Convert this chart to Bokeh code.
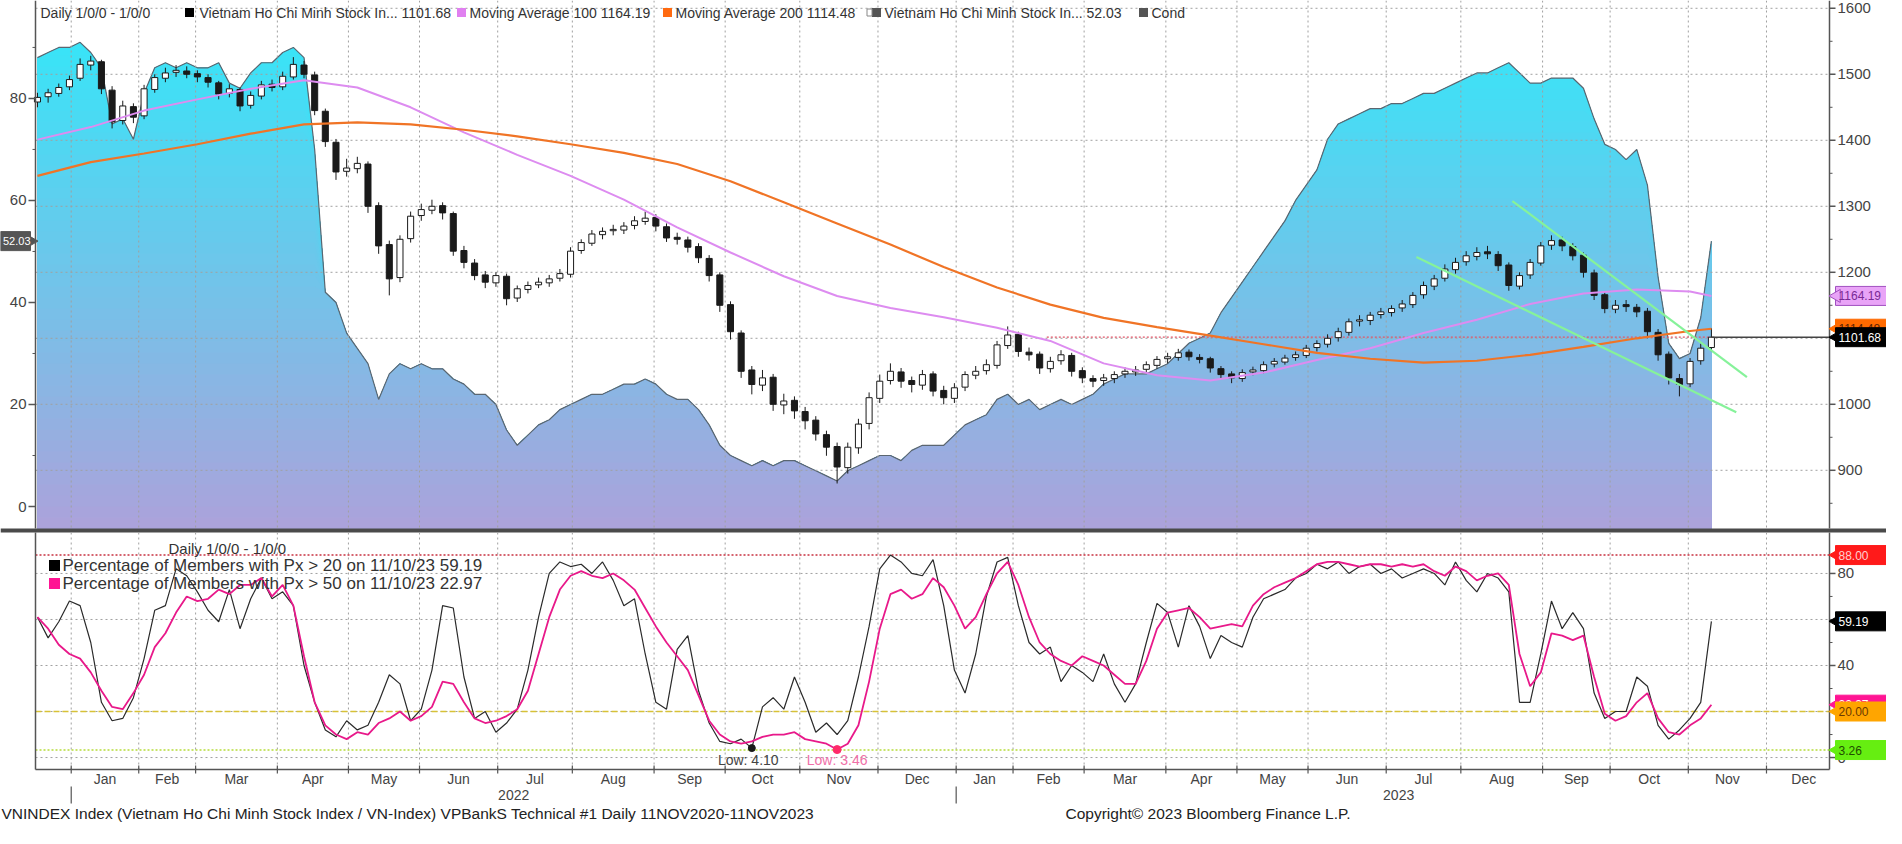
import numpy as np
import pandas as pd
from bokeh.plotting import figure
from bokeh.models import Range1d
from bokeh.embed import file_html
from bokeh.resources import INLINE
from bokeh.core.properties import value

# ---------------- calendar (trading days) ----------------
CAL_START = "2021-12-20"
CAL_END = "2023-12-29"
VN_HOLIDAYS = ["2022-01-03", "2022-01-31", "2022-02-01", "2022-02-02", "2022-02-03",
               "2022-02-04", "2022-04-11", "2022-05-02", "2022-05-03", "2022-09-01",
               "2022-09-02", "2023-01-02", "2023-01-20", "2023-01-23", "2023-01-24",
               "2023-01-25", "2023-01-26", "2023-05-01", "2023-05-02", "2023-05-03",
               "2023-09-01", "2023-09-04"]
MONTHS = ["Jan", "Feb", "Mar", "Apr", "May", "Jun", "Jul", "Aug", "Sep", "Oct", "Nov", "Dec"]
SAMPLE_STEP = 3  # trading days between samples below

# ---------------- VN-Index candles ----------------
px_open = [1458, 1466, 1471, 1481, 1494, 1514, 1519, 1476, 1430, 1451,
           1437, 1477, 1494, 1503, 1505, 1501, 1495, 1487, 1471, 1477,
           1453, 1467, 1485, 1481, 1496, 1514, 1499, 1444, 1397, 1353,
           1357, 1364, 1301, 1242, 1192, 1251, 1286, 1294, 1301, 1289,
           1233, 1214, 1196, 1184, 1194, 1161, 1174, 1181, 1184, 1191,
           1197, 1233, 1244, 1257, 1263, 1264, 1271, 1277, 1283, 1269,
           1253, 1249, 1239, 1221, 1196, 1151, 1108, 1052, 1029, 1041,
           999, 1006, 989, 976, 954, 936, 904, 934, 971, 1009,
           1036, 1049, 1036, 1029, 1046, 1021, 1009, 1026, 1044, 1051,
           1059, 1089, 1106, 1079, 1076, 1054, 1066, 1074, 1051, 1039,
           1036, 1039, 1046, 1049, 1053, 1059, 1069, 1071, 1079, 1071,
           1069, 1054, 1046, 1039, 1049, 1051, 1061, 1064, 1071, 1074,
           1086, 1091, 1101, 1109, 1126, 1127, 1136, 1139, 1146, 1151,
           1166, 1179, 1191, 1204, 1216, 1224, 1231, 1227, 1211, 1179,
           1196, 1214, 1241, 1249, 1239, 1226, 1199, 1166, 1144, 1151,
           1147, 1141, 1109, 1076, 1039, 1031, 1066, 1086]
px_high = [1472, 1478, 1486, 1498, 1524, 1528, 1522, 1482, 1460, 1456,
           1484, 1500, 1510, 1514, 1512, 1506, 1500, 1490, 1485, 1480,
           1474, 1490, 1492, 1504, 1526, 1520, 1504, 1448, 1402, 1372,
           1375, 1368, 1306, 1248, 1256, 1292, 1304, 1310, 1306, 1292,
           1240, 1220, 1202, 1200, 1198, 1180, 1186, 1192, 1196, 1205,
           1238, 1250, 1264, 1268, 1272, 1276, 1285, 1292, 1288, 1274,
           1260, 1254, 1244, 1226, 1200, 1156, 1112, 1058, 1052, 1046,
           1016, 1012, 996, 982, 960, 942, 942, 978, 1018, 1045,
           1062, 1055, 1042, 1052, 1050, 1028, 1032, 1050, 1058, 1068,
           1096, 1118, 1110, 1086, 1080, 1072, 1082, 1078, 1056, 1044,
           1046, 1050, 1056, 1058, 1065, 1073, 1078, 1084, 1083, 1076,
           1072, 1058, 1050, 1053, 1057, 1065, 1070, 1075, 1080, 1090,
           1097, 1106, 1116, 1130, 1135, 1140, 1146, 1150, 1158, 1170,
           1186, 1196, 1212, 1222, 1232, 1238, 1240, 1232, 1215, 1200,
           1220, 1246, 1256, 1254, 1244, 1230, 1204, 1170, 1158, 1158,
           1152, 1146, 1114, 1080, 1046, 1070, 1092, 1115]
px_low = [1450, 1457, 1466, 1476, 1490, 1506, 1470, 1418, 1424, 1426,
          1432, 1472, 1488, 1496, 1494, 1488, 1480, 1462, 1465, 1444,
          1448, 1462, 1474, 1476, 1492, 1494, 1438, 1390, 1340, 1345,
          1350, 1290, 1228, 1165, 1185, 1245, 1278, 1288, 1280, 1225,
          1206, 1188, 1176, 1178, 1150, 1155, 1168, 1176, 1178, 1186,
          1192, 1228, 1240, 1250, 1256, 1258, 1265, 1272, 1262, 1246,
          1242, 1230, 1214, 1186, 1140, 1098, 1040, 1015, 1020, 990,
          985, 978, 962, 945, 922, 880, 895, 925, 962, 1002,
          1030, 1025, 1018, 1022, 1012, 1000, 1002, 1020, 1038, 1045,
          1054, 1084, 1072, 1066, 1046, 1048, 1060, 1042, 1032, 1026,
          1028, 1032, 1040, 1043, 1048, 1054, 1062, 1066, 1066, 1062,
          1048, 1038, 1032, 1034, 1044, 1047, 1056, 1060, 1066, 1070,
          1080, 1086, 1095, 1104, 1118, 1120, 1130, 1133, 1140, 1146,
          1160, 1173, 1186, 1198, 1210, 1218, 1220, 1202, 1172, 1174,
          1190, 1210, 1234, 1232, 1218, 1192, 1158, 1138, 1138, 1140,
          1132, 1100, 1066, 1030, 1012, 1026, 1060, 1080]
px_close = [1465, 1472, 1480, 1492, 1515, 1520, 1478, 1428, 1452, 1435,
            1478, 1495, 1502, 1506, 1500, 1496, 1488, 1470, 1478, 1452,
            1468, 1484, 1480, 1497, 1515, 1500, 1445, 1398, 1352, 1358,
            1365, 1300, 1240, 1190, 1250, 1285, 1295, 1300, 1290, 1232,
            1215, 1195, 1185, 1195, 1160, 1175, 1180, 1185, 1190, 1198,
            1232, 1245, 1258, 1262, 1265, 1270, 1278, 1282, 1270, 1252,
            1250, 1238, 1222, 1195, 1150, 1110, 1050, 1030, 1040, 1000,
            1005, 990, 975, 955, 935, 905, 935, 970, 1010, 1035,
            1050, 1035, 1030, 1045, 1020, 1010, 1025, 1045, 1050, 1060,
            1090, 1105, 1080, 1075, 1055, 1065, 1075, 1050, 1040, 1035,
            1040, 1045, 1050, 1052, 1060, 1068, 1072, 1078, 1072, 1068,
            1055, 1045, 1040, 1048, 1052, 1060, 1065, 1070, 1075, 1085,
            1092, 1100, 1110, 1125, 1128, 1135, 1140, 1145, 1152, 1165,
            1180, 1190, 1205, 1215, 1225, 1230, 1228, 1210, 1180, 1195,
            1215, 1240, 1248, 1240, 1225, 1200, 1165, 1145, 1150, 1148,
            1140, 1110, 1075, 1040, 1030, 1065, 1085, 1101.68]
last_price = 1101.68
last_price_line_from_day = 284

# ---------------- moving averages (trading-day index) ----------------
ma_day = [0, 15, 30, 45, 60, 75, 90, 105, 120, 135, 150, 165, 180, 195, 210, 225,
          240, 255, 270, 285, 300, 315, 330, 345, 360, 375, 390, 405, 420, 435, 450, 465, 471]
ma100 = [1401, 1420, 1445, 1462, 1478, 1491, 1480, 1450, 1412, 1378, 1346, 1310, 1268,
         1230, 1194, 1164, 1146, 1132, 1116, 1096, 1062, 1044, 1036, 1048, 1067, 1085,
         1108, 1128, 1152, 1168, 1174, 1171, 1164.19]
ma200 = [1346, 1367, 1380, 1394, 1410, 1424, 1427, 1424, 1416, 1406, 1394, 1381, 1364,
         1338, 1306, 1274, 1242, 1208, 1177, 1151, 1131, 1117, 1104, 1091, 1078, 1069,
         1063, 1066, 1075, 1087, 1100, 1111, 1114.48]

# ---------------- Cond (left axis) ----------------
cond = [88, 89, 90, 90, 91, 89, 86, 75, 76, 72,
        81, 86, 87, 86, 87, 86, 86, 87, 83, 82,
        85, 87, 87, 89, 90, 88, 70, 42, 40, 34,
        31, 28, 21, 26, 28, 27, 28, 27, 27, 25,
        24, 22, 22, 20, 15, 12, 14, 16, 17, 19,
        20, 21, 22, 22, 23, 24, 24, 25, 24, 22,
        21, 21, 19, 16, 12, 10, 9, 8, 9, 8,
        9, 9, 8, 7, 6, 5, 7, 8, 9, 10,
        10, 9, 11, 12, 12, 12, 14, 16, 17, 18,
        21, 22, 20, 21, 19, 20, 21, 20, 21, 22,
        24, 25, 26, 26, 26, 27, 28, 30, 32, 33,
        34, 38, 41, 44, 47, 50, 53, 56, 60, 63,
        66, 72, 75, 76, 77, 78, 78, 79, 79, 80,
        81, 81, 82, 83, 84, 85, 85, 86, 87, 85,
        83, 83, 84, 84, 84, 82, 76, 71, 70, 68,
        70, 63, 45, 32, 29, 30, 37, 52.03]

# ---------------- breadth (lower panel) ----------------
pct_above_20 = [61, 52, 59, 68, 66, 50, 24, 16, 17, 26,
                43, 64, 66, 82, 79, 72, 64, 59, 73, 56,
                69, 78, 69, 72, 66, 40, 24, 12, 9, 16,
                12, 14, 24, 36, 32, 16, 21, 38, 66, 65,
                35, 17, 20, 11, 15, 21, 38, 61, 80, 85,
                83, 84, 80, 85, 77, 66, 69, 45, 24, 21,
                47, 53, 29, 15, 7, 6, 8, 4.10, 22, 26,
                21, 35, 24, 11, 15, 10, 16, 35, 57, 82,
                88, 85, 80, 79, 86, 66, 38, 28, 45, 70,
                85, 87, 66, 50, 45, 48, 33, 40, 37, 33,
                45, 32, 24, 32, 50, 67, 63, 48, 66, 57,
                43, 53, 50, 48, 61, 69, 71, 73, 78, 80,
                84, 82, 85, 80, 83, 84, 80, 82, 78, 80,
                82, 80, 75, 85, 77, 72, 80, 78, 72, 24,
                24, 45, 68, 56, 63, 56, 28, 17, 20, 20,
                35, 31, 14, 8, 12, 17, 24, 59.19]
pct_above_50 = [61, 56, 49, 45, 43, 37, 29, 22, 21, 28,
                36, 48, 54, 63, 70, 68, 69, 73, 71, 75,
                75, 78, 70, 75, 66, 44, 24, 14, 10, 8,
                11, 10, 15, 17, 20, 16, 18, 22, 33, 32,
                24, 17, 15, 16, 18, 21, 29, 45, 61, 73,
                79, 81, 79, 78, 80, 77, 73, 65, 57, 50,
                44, 38, 27, 16, 10, 7, 6, 7, 9, 10,
                10, 11, 8, 7, 6, 3.46, 6, 14, 33, 56,
                71, 73, 69, 71, 78, 74, 66, 56, 61, 71,
                80, 85, 75, 61, 50, 45, 42, 40, 44, 42,
                40, 36, 32, 32, 42, 56, 63, 64, 65, 61,
                56, 57, 58, 57, 66, 71, 74, 76, 78, 81,
                84, 85, 85, 84, 83, 84, 84, 83, 84, 83,
                84, 81, 79, 83, 81, 77, 79, 80, 75, 45,
                31, 37, 54, 53, 51, 53, 35, 19, 16, 18,
                24, 28, 17, 11, 10, 14, 17, 22.97]

# trend channel drawn on the chart (trading-day index, price)
trend_day0 = [388, 415]
trend_px0 = [1223, 1308]
trend_day1 = [478, 481]
trend_px1 = [988, 1041]

# tick values and reference levels
price_ticks = [900, 1000, 1100, 1200, 1300, 1400, 1500, 1600]
price_minor = [850, 950, 1050, 1150, 1250, 1350, 1450, 1550]
cond_ticks = [0, 20, 40, 60, 80]
cond_minor = [10, 30, 50, 70, 90]
breadth_ticks = [0, 40, 80]
breadth_minor = [10, 20, 30, 50, 60, 70]
breadth_grid = [0, 20, 40, 60, 80]
level_high = 88.00
level_mid = 20.00
level_low = 3.26
low20_day, low20_val = 201, 4.10
low50_day, low50_val = 225, 3.46

# ---------------- layout geometry (page pixels) ----------------
FONT = "Liberation Sans"
CAN_L, CAN_R, CAN_T, CAN_B = 8, 1894, 8, 836
DATA_L, DATA_R = 43, 1837
TOP_T, TOP_B = 8, 536
BOT_T, BOT_B = 540, 777
DAY_L, DAY_R = -0.55, 504.23
PRICE_VIS = (811.8, 1611.8)
COND_VIS = (-4.31, 99.2)
BREADTH_VIS = (-5.2, 97.8)


def ext(vb, vt, yb, yt):
    k = (vt - vb) / (yb - yt)
    return Range1d(vb - (CAN_B - yb) * k, vt + (yt - CAN_T) * k)


kx = (DAY_R - DAY_L) / (DATA_R - DATA_L)
x_range = Range1d(DAY_L - (DATA_L - CAN_L) * kx, DAY_R + (CAN_R - DATA_R) * kx)

# ---------------- calendar derived ticks ----------------
days = pd.bdate_range(CAL_START, CAL_END)
days = days[~days.isin(pd.to_datetime(VN_HOLIDAYS))]
n_days = len(days)
ym = list(days.year * 12 + days.month)
yrs = list(days.year)
m_starts = [k for k in range(1, n_days) if ym[k] != ym[k - 1]]
m_ends = m_starts[1:] + [n_days]
month_bounds = [s - 0.5 for s in m_starts]
month_centers = [(s + e - 1) / 2.0 for s, e in zip(m_starts, m_ends)]
month_names = [MONTHS[days[s].month - 1] for s in m_starts]
y_starts = [k for k in range(1, n_days) if yrs[k] != yrs[k - 1]]
y_ends = y_starts[1:] + [n_days]
year_bounds = [s - 0.5 for s in y_starts]
year_centers = [(s + e - 1) / 2.0 for s, e in zip(y_starts, y_ends)]
year_names = [str(days[s].year) for s in y_starts]

day = np.arange(len(px_close)) * SAMPLE_STEP
o = np.array(px_open, float)
h = np.array(px_high, float)
l = np.array(px_low, float)
c = np.array(px_close, float)
inc = c >= o
dec = ~inc
cond_arr = np.array(cond, float)

# ---------------- figure ----------------
p = figure(width=CAN_R - CAN_L, height=CAN_B - CAN_T, x_range=x_range,
           y_range=ext(PRICE_VIS[0], PRICE_VIS[1], TOP_B, TOP_T),
           output_backend="svg", toolbar_location=None, x_axis_location=None,
           y_axis_location=None, title=None, min_border=0, outline_line_color=None,
           background_fill_color="white", border_fill_color="white")
p.extra_y_ranges = {"cond": ext(COND_VIS[0], COND_VIS[1], TOP_B, TOP_T),
                    "breadth": ext(BREADTH_VIS[0], BREADTH_VIS[1], BOT_B, BOT_T),
                    "page": Range1d(CAN_B, CAN_T)}
p.extra_x_ranges = {"page": Range1d(CAN_L, CAN_R)}
p.grid.visible = False

GRID = dict(line_color="#a0a0a0", line_dash="2 3", line_width=1)
AXIS = "#555555"


def txt(xs, ys, texts, xr="page", yr="page", size="14px", color="#333333", align="left",
        baseline="middle"):
    p.text(x=xs, y=ys, text=texts, x_range_name=xr, y_range_name=yr,
           text_font=value(FONT), text_font_size=size, text_color=color,
           text_align=align, text_baseline=baseline)


# ---- top panel: Cond gradient area ----
lo_c, hi_c = COND_VIS
nb = 48
edges = np.linspace(lo_c, hi_c, nb + 1)
top_rgb = np.array([0x2e, 0xea, 0xfa], float)
bot_rgb = np.array([0xac, 0xa2, 0xdb], float)
for k in reversed(range(nb)):
    f = ((edges[k] + edges[k + 1]) / 2 - lo_c) / (hi_c - lo_c)
    rgb = bot_rgb + (top_rgb - bot_rgb) * f
    col = "#%02x%02x%02x" % tuple(int(round(v)) for v in rgb)
    p.varea(x=day, y1=lo_c, y2=np.minimum(cond_arr, edges[k + 1]), fill_color=col,
            y_range_name="cond")
p.line(day, cond_arr, color="#5b6670", line_width=1.2, y_range_name="cond")

# ---- top panel grid ----
p.segment(x0=[DATA_L] * len(price_ticks), x1=[DATA_R] * len(price_ticks), y0=price_ticks,
          y1=price_ticks, x_range_name="page", **GRID)
p.segment(x0=month_bounds, x1=month_bounds, y0=[TOP_T] * len(month_bounds),
          y1=[TOP_B] * len(month_bounds), y_range_name="page", **GRID)

# ---- last price dotted level ----
p.segment(x0=[last_price_line_from_day], y0=[last_price], x1=[day[-1]], y1=[last_price],
          color="#e0586a", line_dash="2 2", line_width=1.2)

# ---- candles ----
p.segment(x0=day, y0=l, x1=day, y1=h, color="#1a1a1a", line_width=1)
p.vbar(x=day[inc], width=1.7, top=c[inc], bottom=o[inc], fill_color="white", line_color="#1a1a1a")
p.vbar(x=day[dec], width=1.7, top=o[dec], bottom=c[dec], fill_color="#1a1a1a", line_color="#1a1a1a")

# ---- moving averages, trend channel, last price ----
p.line(ma_day, ma100, color="#dd8cf0", line_width=2)
p.line(ma_day, ma200, color="#f07426", line_width=2.2)
p.segment(x0=trend_day0, y0=trend_px0, x1=trend_day1, y1=trend_px1, color="#86f29a", line_width=2.2)
p.segment(x0=[day[-1]], y0=[last_price], x1=[DAY_R], y1=[last_price], color="#444444",
          line_width=1.5)

# ---- top panel axes ----
p.segment(x0=[DATA_L, DATA_R], x1=[DATA_L, DATA_R], y0=[TOP_T, TOP_T], y1=[TOP_B, TOP_B],
          x_range_name="page", y_range_name="page", color=AXIS, line_width=1.5)
n = len(price_ticks)
p.segment(x0=[DATA_R] * n, x1=[DATA_R + 6] * n, y0=price_ticks, y1=price_ticks,
          x_range_name="page", color=AXIS, line_width=1.5)
p.segment(x0=[DATA_R] * len(price_minor), x1=[DATA_R + 3] * len(price_minor), y0=price_minor,
          y1=price_minor, x_range_name="page", color=AXIS, line_width=1)
txt([DATA_R + 8] * n, price_ticks, [str(v) for v in price_ticks], yr="default", size="15px",
    color="#444444")
n = len(cond_ticks)
p.segment(x0=[DATA_L - 7] * n, x1=[DATA_L] * n, y0=cond_ticks, y1=cond_ticks,
          x_range_name="page", y_range_name="cond", color=AXIS, line_width=1.5)
p.segment(x0=[DATA_L - 3] * len(cond_minor), x1=[DATA_L] * len(cond_minor), y0=cond_minor,
          y1=cond_minor, x_range_name="page", y_range_name="cond", color=AXIS, line_width=1)
txt([DATA_L - 9] * n, cond_ticks, [str(v) for v in cond_ticks], yr="cond", size="15px",
    color="#444444", align="right")

# ---- separator between panels ----
p.quad(left=[CAN_L], right=[CAN_R], top=[TOP_B], bottom=[BOT_T], x_range_name="page",
       y_range_name="page", fill_color="#4a4a4a", line_color=None)

# ---- lower panel ----
nb_ = len(breadth_grid)
p.segment(x0=[DATA_L] * nb_, x1=[DATA_R] * nb_, y0=breadth_grid, y1=breadth_grid,
          x_range_name="page", y_range_name="breadth", **GRID)
p.segment(x0=month_bounds, x1=month_bounds, y0=[BOT_T] * len(month_bounds),
          y1=[BOT_B] * len(month_bounds), y_range_name="page", **GRID)
p.segment(x0=[DATA_L], x1=[DATA_R], y0=[level_high], y1=[level_high], x_range_name="page",
          y_range_name="breadth", line_color="#c83040", line_dash="2 2", line_width=1.6)
p.segment(x0=[DATA_L], x1=[DATA_R], y0=[level_mid], y1=[level_mid], x_range_name="page",
          y_range_name="breadth", line_color="#d8c236", line_dash="6 3", line_width=1.4)
p.segment(x0=[DATA_L], x1=[DATA_R], y0=[level_low], y1=[level_low], x_range_name="page",
          y_range_name="breadth", line_color="#b6dc3a", line_dash="2 2", line_width=1.6)

p.line(day, pct_above_20, color="#2a2a2a", line_width=1.2, y_range_name="breadth")
p.line(day, pct_above_50, color="#e8198a", line_width=1.8, y_range_name="breadth")
p.scatter([low20_day], [low20_val], size=7, color="#1a1a1a", y_range_name="breadth")
p.scatter([low50_day], [low50_val], size=8, color="#ff2a6a", y_range_name="breadth")
txt([low20_day - 1], [-0.9], ["Low: 4.10"], xr="default", yr="breadth", size="14px",
    color="#444444", align="center")
txt([low50_day], [-0.9], ["Low: 3.46"], xr="default", yr="breadth", size="14px",
    color="#f070a8", align="center")

# lower panel frame and axes
p.segment(x0=[DATA_L, DATA_R, DATA_L], x1=[DATA_L, DATA_R, DATA_R], y0=[BOT_T, BOT_T, BOT_B],
          y1=[BOT_B, BOT_B, BOT_B], x_range_name="page", y_range_name="page", color=AXIS,
          line_width=1.5)
n = len(breadth_ticks)
p.segment(x0=[DATA_R] * n, x1=[DATA_R + 6] * n, y0=breadth_ticks, y1=breadth_ticks,
          x_range_name="page", y_range_name="breadth", color=AXIS, line_width=1.5)
p.segment(x0=[DATA_R] * len(breadth_minor), x1=[DATA_R + 3] * len(breadth_minor),
          y0=breadth_minor, y1=breadth_minor, x_range_name="page", y_range_name="breadth",
          color=AXIS, line_width=1)
txt([DATA_R + 8] * n, breadth_ticks, [str(v) for v in breadth_ticks], yr="breadth",
    size="15px", color="#444444")

# time axis
nm = len(month_bounds)
p.segment(x0=month_bounds, x1=month_bounds, y0=[BOT_B - 4] * nm, y1=[BOT_B + 4] * nm,
          y_range_name="page", color=AXIS, line_width=1.2)
txt(month_centers, [786] * nm, month_names, xr="default", color="#444444", align="center")
ny = len(year_bounds)
p.segment(x0=year_bounds, x1=year_bounds, y0=[794] * ny, y1=[811] * ny, y_range_name="page",
          color=AXIS, line_width=1.2)
txt(year_centers, [802] * ny, year_names, xr="default", color="#444444", align="center")

# ---- legends ----
LY = 20
txt([48], [LY], ["Daily 1/0/0 - 1/0/0"])
p.rect(x=[197, 469, 675, 884, 1151], y=[LY] * 5, width=9, height=9,
       fill_color=["#000000", "#e080f0", "#ff6a10", "#555555", "#555555"], line_color=None,
       x_range_name="page", y_range_name="page")
p.rect(x=[877], y=[LY], width=5, height=7, fill_color=None, line_color="#888888",
       x_range_name="page", y_range_name="page")
txt([207, 477, 683, 892, 1159], [LY] * 5,
    ["Vietnam Ho Chi Minh Stock In... 1101.68", "Moving Average 100 1164.19",
     "Moving Average 200 1114.48", "Vietnam Ho Chi Minh Stock In... 52.03", "Cond"])

txt([176], [556], ["Daily 1/0/0 - 1/0/0"], size="15px")
p.rect(x=[62, 62], y=[573, 591], width=11, height=11, fill_color=["#000000", "#ff1493"],
       line_color=None, x_range_name="page", y_range_name="page")
txt([70, 70], [573, 591], ["Percentage of Members with Px > 20 on 11/10/23  59.19",
                           "Percentage of Members with Px > 50  on 11/10/23 22.97"],
    size="17px")


# ---- value tags ----
def tag(yv, text, fill, tcolor, yr, border=None, side="right"):
    border = border or fill
    if side == "right":
        xc, xa, xt, align, ang, wd, fs = 1869, 1844, 1846, "left", np.pi / 2, 52, "12px"
    else:
        xc, xa, xt, align, ang, wd, fs = 23, 38, 38, "right", -np.pi / 2, 30, "11px"
    p.rect(x=[xc], y=[yv], width=wd, height=19, height_units="screen", fill_color=fill,
           line_color=border, x_range_name="page", y_range_name=yr)
    p.scatter(x=[xa], y=[yv], marker="triangle", size=13, angle=ang, fill_color=fill,
              line_color=border, x_range_name="page", y_range_name=yr)
    txt([xt], [yv], [text], yr=yr, size=fs, color=tcolor, align=align)


tag(1164.19, "1164.19", "#e9a4f7", "#7a2a96", "default", border="#a050c0")
tag(1114.48, "1114.48", "#ff6a00", "#5a2000", "default")
tag(last_price, "1101.68", "#000000", "#ffffff", "default")
tag(52.03, "52.03", "#555555", "#ffffff", "cond", side="left")
tag(level_high, "88.00", "#ff1a1a", "#ffd0d0", "breadth")
tag(59.19, "59.19", "#000000", "#ffffff", "breadth")
tag(22.97, "22.97", "#ff1493", "#ffffff", "breadth")
tag(level_mid, "20.00", "#ffa500", "#6b3a00", "breadth")
tag(level_low, "3.26", "#66ee11", "#204d00", "breadth")

# ---- footnotes ----
txt([9, 1073], [821, 821],
    ["VNINDEX Index (Vietnam Ho Chi Minh Stock Index / VN-Index) VPBankS Technical #1  Daily 11NOV2020-11NOV2023",
     "Copyright\u00a9 2023 Bloomberg Finance L.P."], size="15.5px", color="#222222")

open("out.html", "w").write(file_html(p, INLINE))
